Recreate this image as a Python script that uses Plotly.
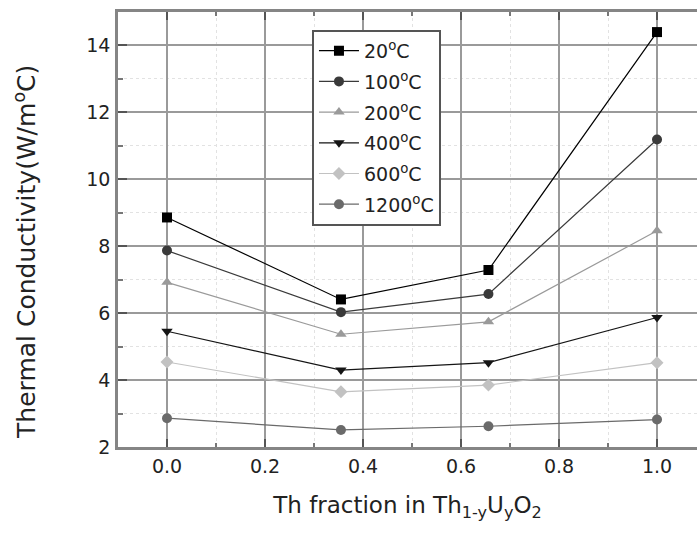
import plotly.graph_objects as go

# Th fraction in Th(1-y)U(y)O2
th_fraction = [0.0, 0.355, 0.656, 1.0]

# Thermal conductivity (W/m°C) at each temperature
k_20 = [8.86, 6.41, 7.29, 14.40]
k_100 = [7.87, 6.03, 6.57, 11.19]
k_200 = [6.92, 5.37, 5.74, 8.46]
k_400 = [5.46, 4.30, 4.52, 5.87]
k_600 = [4.54, 3.65, 3.85, 4.52]
k_1200 = [2.86, 2.51, 2.62, 2.82]

series_names = ["20<sup>o</sup>C", "100<sup>o</sup>C", "200<sup>o</sup>C",
                "400<sup>o</sup>C", "600<sup>o</sup>C", "1200<sup>o</sup>C"]
series_values = [k_20, k_100, k_200, k_400, k_600, k_1200]
series_colors = ["#000000", "#3a3a3a", "#9a9a9a", "#151515", "#c2c2c2", "#6a6a6a"]
series_symbols = ["square", "circle", "triangle-up", "triangle-down", "diamond", "circle"]

FONT = "DejaVu Sans"
TEXT = "#222222"

fig = go.Figure()
for i, (name, vals, col, sym) in enumerate(zip(series_names, series_values,
                                               series_colors, series_symbols)):
    fig.add_trace(go.Scatter(
        x=th_fraction, y=vals, name=name, mode="lines+markers",
        legendgroup=f"g{i}",
        line=dict(color=col, width=1.2),
        marker=dict(symbol=sym, size=10, color=col),
    ))

axis_common = dict(
    showline=True, linecolor="#858585", linewidth=2.5,
    showgrid=True, gridcolor="#9a9a9a", gridwidth=1.5,
    zeroline=False, ticks="inside", tickcolor="#555555", tickwidth=1.5,
    tickfont=dict(family=FONT, size=19, color=TEXT),
)

fig.update_xaxes(
    **axis_common,
    range=[-0.1, 1.0816], dtick=0.2, tick0=0, tickformat=".1f",
    ticklen=8, mirror="allticks",
    minor=dict(dtick=0.1, ticks="inside", ticklen=4, tickcolor="#777777",
               showgrid=True, gridcolor="#e2e2e2", griddash="dot", gridwidth=1),
    title=dict(text="Th fraction in Th<sub>1-y</sub>U<sub>y</sub>O<sub>2</sub>",
               font=dict(family=FONT, size=23, color=TEXT), standoff=22),
)
fig.update_yaxes(
    **axis_common,
    range=[2, 15], dtick=2, tick0=2, ticklen=9, ticklabelstandoff=1,
    minor=dict(dtick=1, ticks="inside", ticklen=5, tickcolor="#777777",
               showgrid=True, gridcolor="#e2e2e2", griddash="dot", gridwidth=1),
)

# Vertical axis title, placed as a rotated annotation left of the tick labels
fig.add_annotation(
    text="Thermal Conductivity(W/m<sup>o</sup>C)",
    xref="paper", yref="paper", x=-0.161, y=0.448,
    xanchor="center", yanchor="middle", textangle=-90, showarrow=False,
    font=dict(family=FONT, size=25, color=TEXT),
)

fig.update_layout(
    width=697, height=533,
    margin=dict(l=118, r=0, t=12, b=86),
    paper_bgcolor="white", plot_bgcolor="white",
    font=dict(family=FONT, color=TEXT),
    legend=dict(
        x=0.335, y=0.959, xanchor="left", yanchor="top",
        bgcolor="white", bordercolor="#555555", borderwidth=2,
        font=dict(family=FONT, size=19, color=TEXT),
        tracegroupgap=3, itemwidth=40,
    ),
)

fig.write_html("out.html")
